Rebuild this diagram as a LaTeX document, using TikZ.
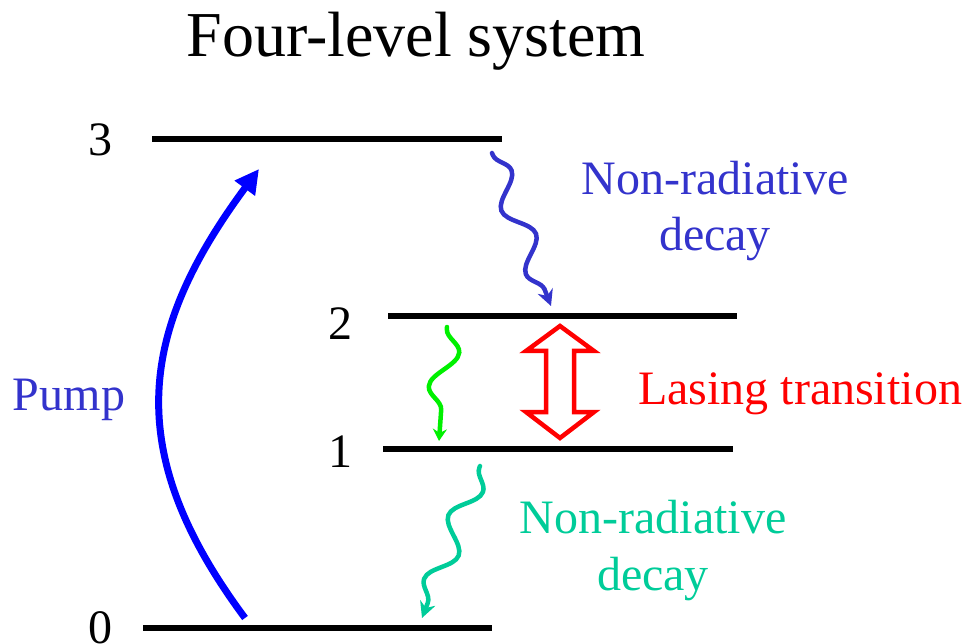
\documentclass[tikz,border=0pt]{standalone}
\usepackage{fontspec}
\setmainfont{Liberation Serif}
\usepackage{xcolor}
\usetikzlibrary{arrows.meta,decorations.pathmorphing}
\definecolor{pumpblue}{RGB}{0,0,255}
\definecolor{decayblue}{RGB}{51,51,204}
\definecolor{fastgreen}{RGB}{0,240,0}
\definecolor{decayteal}{RGB}{0,204,153}
\definecolor{lasered}{RGB}{255,0,0}
\tikzset{
  level/.style  = {draw=black, line width=6pt},
  lbl/.style    = {font=\fontsize{48}{57}\selectfont, anchor=base, inner sep=0pt},
  wiggle/.style 2 args = {line width=4.5pt, line cap=round,
                   decorate, decoration={snake, segment length=#1, amplitude=#2,
                   pre length=2pt, post length=8pt}},
}
\begin{document}
\begin{tikzpicture}[x=1pt, y=-1pt]
\useasboundingbox (0,0) rectangle (967,644);
% title
\node[lbl, font=\fontsize{64}{70}\selectfont] (title) at (416,57) {Four-level system};

% energy levels
\coordinate (l3a) at (152,139); \coordinate (l3b) at (502,139);
\coordinate (l2a) at (388,316); \coordinate (l2b) at (737,316);
\coordinate (l1a) at (383,449); \coordinate (l1b) at (733,449);
\coordinate (l0a) at (143,628); \coordinate (l0b) at (492,628);
\draw[level] (l3a) -- (l3b);
\draw[level] (l2a) -- (l2b);
\draw[level] (l1a) -- (l1b);
\draw[level] (l0a) -- (l0b);
\node[lbl] (n3) at (100,156) {3};
\node[lbl] (n2) at (340,340) {2};
\node[lbl] (n1) at (340,467) {1};
\node[lbl] (n0) at (100,643) {0};

% pump
\coordinate (pumpfrom) at (245,618);
\coordinate (pumpto) at (259,169);
\draw[pumpblue, line width=7pt, -{Triangle[length=24pt, width=24pt]}]
  (pumpfrom) .. controls (120,450) and (140,330) .. (pumpto);
\node[lbl, text=decayblue] (pump) at (69,410) {Pump};

% upper non-radiative decay 3 -> 2
\coordinate (d3a) at (492,153); \coordinate (d3b) at (551,306);
\draw[decayblue, wiggle={68pt}{12pt}, -{Stealth[length=16pt, width=16pt]}] (d3a) -- (d3b);
\node[lbl, text=decayblue] (nr3) at (715,195) {Non-radiative};
\node[lbl, text=decayblue] (dc3) at (715,251) {decay};

% fast relaxation 2 -> 1
\coordinate (g2) at (447,327); \coordinate (g1) at (439,441);
\draw[fastgreen, wiggle={72pt}{14pt}, -{Stealth[length=12pt, width=14pt]}] (g2) -- (g1);

% lasing transition (hollow double arrow)
\draw[lasered, line width=4.5pt, line join=miter, fill=white]
  (560,326) -- (594,351) -- (574,351) -- (574,412) -- (594,412) -- (560,438)
  -- (526,412) -- (546,412) -- (546,351) -- (526,351) -- cycle;
\node[lbl, text=lasered] (lase) at (800,405) {Lasing transition};

% lower non-radiative decay 1 -> 0
\coordinate (d1a) at (480,466); \coordinate (d1b) at (422,618);
\draw[decayteal, wiggle={68pt}{12pt}, -{Stealth[length=16pt, width=16pt]}] (d1a) -- (d1b);
\node[lbl, text=decayteal] (nr1) at (653,533) {Non-radiative};
\node[lbl, text=decayteal] (dc1) at (653,590) {decay};
\end{tikzpicture}
\end{document}
